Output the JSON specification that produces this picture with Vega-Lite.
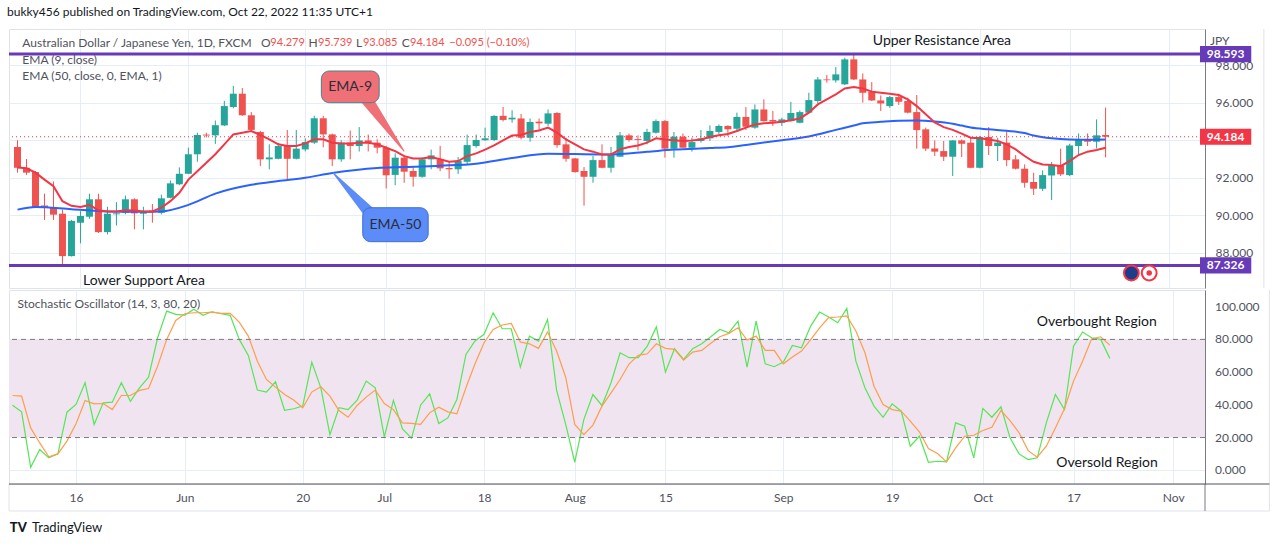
{
"$schema":"https://vega.github.io/schema/vega-lite/v6.json",
"autosize":{"type":"pad"},
"padding":{"left":7,"top":6,"right":0,"bottom":0},
"bounds":"flush",
"spacing":2,
"background":"#ffffff",
"title":{"text":"bukky456 published on TradingView.com, Oct 22, 2022 11:35 UTC+1","anchor":"start","fontSize":12,"fontWeight":"normal","color":"#131722","font":"Lato","offset":9},
"datasets":{
"bars":[
{"i":0,"o":93.64,"h":94.0,"l":92.27,"c":92.53,"e9":92.55,"k":39.8,"d":45.7},
{"i":1,"o":92.53,"h":93.0,"l":92.15,"c":92.27,"e9":92.5,"k":35.7,"d":45.3},
{"i":2,"o":92.3,"h":92.35,"l":90.4,"c":90.44,"e9":92.27,"k":1.8,"d":25.9},
{"i":3,"o":90.52,"h":91.15,"l":89.75,"c":90.42,"e9":91.9,"k":12.7,"d":16.7},
{"i":4,"o":90.44,"h":91.8,"l":89.75,"c":90.03,"e9":91.55,"k":7.6,"d":8.2},
{"i":5,"o":90.08,"h":90.3,"l":87.35,"c":87.82,"e9":90.75,"k":10.0,"d":10.0},
{"i":6,"o":87.82,"h":89.75,"l":87.8,"c":89.7,"e9":90.5,"k":35.5,"d":17.8},
{"i":7,"o":89.6,"h":90.22,"l":88.5,"c":89.96,"e9":90.44,"k":40.2,"d":28.4},
{"i":8,"o":89.92,"h":91.15,"l":89.8,"c":90.85,"e9":90.55,"k":53.5,"d":42.7},
{"i":9,"o":90.85,"h":91.15,"l":89.05,"c":89.1,"e9":90.26,"k":28.0,"d":40.6},
{"i":10,"o":89.1,"h":90.45,"l":88.98,"c":90.08,"e9":90.2,"k":41.2,"d":40.8},
{"i":11,"o":90.05,"h":90.7,"l":89.45,"c":90.1,"e9":90.2,"k":41.6,"d":37.1},
{"i":12,"o":90.13,"h":91.05,"l":90.05,"c":90.85,"e9":90.27,"k":53.5,"d":45.7},
{"i":13,"o":90.85,"h":90.9,"l":89.25,"c":90.1,"e9":90.25,"k":42.2,"d":45.7},
{"i":14,"o":90.08,"h":90.45,"l":89.25,"c":90.22,"e9":90.2,"k":50.4,"d":48.8},
{"i":15,"o":90.25,"h":90.6,"l":89.6,"c":90.15,"e9":90.2,"k":56.9,"d":50.0},
{"i":16,"o":90.13,"h":91.1,"l":90.05,"c":90.9,"e9":90.4,"k":81.0,"d":63.7},
{"i":17,"o":90.93,"h":91.85,"l":90.9,"c":91.7,"e9":90.75,"k":97.3,"d":80.0},
{"i":18,"o":91.65,"h":92.55,"l":91.6,"c":92.21,"e9":91.2,"k":95.3,"d":91.6},
{"i":19,"o":92.21,"h":93.6,"l":92.2,"c":93.25,"e9":91.9,"k":94.9,"d":95.7},
{"i":20,"o":93.25,"h":94.4,"l":92.85,"c":94.28,"e9":92.35,"k":98.4,"d":96.3},
{"i":21,"o":94.3,"h":94.4,"l":94.15,"c":94.25,"e9":92.8,"k":94.7,"d":96.3},
{"i":22,"o":94.26,"h":95.05,"l":93.8,"c":94.8,"e9":93.25,"k":96.9,"d":96.7},
{"i":23,"o":94.79,"h":96.1,"l":94.75,"c":95.82,"e9":93.78,"k":95.7,"d":95.9},
{"i":24,"o":95.77,"h":96.9,"l":95.7,"c":96.48,"e9":94.31,"k":94.7,"d":95.9},
{"i":25,"o":96.48,"h":96.78,"l":95.3,"c":95.33,"e9":94.4,"k":80.0,"d":90.6},
{"i":26,"o":95.33,"h":95.5,"l":94.5,"c":94.55,"e9":94.49,"k":70.2,"d":82.0},
{"i":27,"o":94.44,"h":94.5,"l":92.62,"c":92.98,"e9":94.28,"k":49.0,"d":66.7},
{"i":28,"o":92.98,"h":93.78,"l":92.45,"c":93.08,"e9":94.05,"k":47.8,"d":55.5},
{"i":29,"o":93.01,"h":93.85,"l":92.98,"c":93.69,"e9":93.78,"k":54.1,"d":50.8},
{"i":30,"o":93.72,"h":94.55,"l":91.92,"c":93.01,"e9":93.69,"k":36.7,"d":46.3},
{"i":31,"o":93.01,"h":94.55,"l":92.98,"c":93.55,"e9":93.69,"k":37.6,"d":42.9},
{"i":32,"o":93.51,"h":94.1,"l":93.4,"c":93.9,"e9":93.83,"k":39.2,"d":38.2},
{"i":33,"o":93.87,"h":95.3,"l":93.8,"c":95.17,"e9":94.05,"k":66.1,"d":47.8},
{"i":34,"o":95.17,"h":95.3,"l":93.62,"c":94.31,"e9":94.05,"k":50.4,"d":51.0},
{"i":35,"o":94.31,"h":94.35,"l":92.62,"c":92.98,"e9":93.87,"k":21.8,"d":45.3},
{"i":36,"o":92.98,"h":94.0,"l":92.85,"c":93.87,"e9":93.83,"k":38.2,"d":36.5},
{"i":37,"o":93.87,"h":94.52,"l":92.98,"c":93.69,"e9":93.83,"k":37.1,"d":32.4},
{"i":38,"o":93.69,"h":94.7,"l":93.4,"c":93.99,"e9":93.87,"k":42.9,"d":39.6},
{"i":39,"o":93.99,"h":94.3,"l":93.4,"c":93.87,"e9":93.87,"k":54.5,"d":44.7},
{"i":40,"o":93.87,"h":94.05,"l":93.3,"c":93.6,"e9":93.78,"k":50.4,"d":49.0},
{"i":41,"o":93.6,"h":93.7,"l":91.43,"c":92.13,"e9":93.6,"k":20.4,"d":40.8},
{"i":42,"o":92.15,"h":93.3,"l":91.6,"c":93.07,"e9":93.42,"k":42.7,"d":37.1},
{"i":43,"o":93.07,"h":93.2,"l":91.73,"c":92.32,"e9":93.15,"k":25.3,"d":29.0},
{"i":44,"o":92.36,"h":92.55,"l":91.52,"c":92.05,"e9":93.03,"k":19.6,"d":28.7},
{"i":45,"o":92.05,"h":93.08,"l":92.0,"c":92.98,"e9":93.03,"k":39.8,"d":28.0},
{"i":46,"o":92.98,"h":93.5,"l":92.45,"c":93.19,"e9":93.1,"k":46.7,"d":35.1},
{"i":47,"o":92.98,"h":93.7,"l":92.35,"c":92.5,"e9":92.98,"k":28.6,"d":38.6},
{"i":48,"o":92.52,"h":92.85,"l":91.95,"c":92.45,"e9":92.85,"k":32.0,"d":35.7},
{"i":49,"o":92.45,"h":93.1,"l":92.2,"c":92.89,"e9":92.89,"k":43.3,"d":34.5},
{"i":50,"o":92.85,"h":94.3,"l":92.7,"c":93.74,"e9":93.15,"k":70.8,"d":50.4},
{"i":51,"o":93.69,"h":94.3,"l":93.6,"c":94.01,"e9":93.3,"k":79.0,"d":65.1},
{"i":52,"o":94.0,"h":94.67,"l":93.97,"c":94.1,"e9":93.5,"k":83.1,"d":78.0},
{"i":53,"o":94.01,"h":95.35,"l":93.95,"c":95.29,"e9":93.72,"k":96.3,"d":86.1},
{"i":54,"o":95.3,"h":95.77,"l":95.0,"c":95.08,"e9":93.99,"k":86.5,"d":88.8},
{"i":55,"o":95.11,"h":95.6,"l":94.93,"c":95.2,"e9":94.25,"k":86.5,"d":89.8},
{"i":56,"o":95.16,"h":95.4,"l":94.04,"c":94.13,"e9":94.28,"k":63.1,"d":78.4},
{"i":57,"o":94.13,"h":95.16,"l":93.92,"c":94.97,"e9":94.44,"k":82.0,"d":77.3},
{"i":58,"o":94.99,"h":95.16,"l":94.54,"c":94.9,"e9":94.52,"k":79.0,"d":74.5},
{"i":59,"o":94.88,"h":95.64,"l":94.76,"c":95.43,"e9":94.67,"k":92.2,"d":84.5},
{"i":60,"o":95.45,"h":95.5,"l":93.6,"c":93.74,"e9":94.4,"k":48.8,"d":72.9},
{"i":61,"o":93.78,"h":94.13,"l":92.85,"c":93.01,"e9":94.04,"k":28.0,"d":56.9},
{"i":62,"o":93.03,"h":93.05,"l":92.27,"c":92.3,"e9":93.78,"k":4.9,"d":28.0},
{"i":63,"o":92.36,"h":92.57,"l":90.51,"c":92.05,"e9":93.51,"k":31.0,"d":21.8},
{"i":64,"o":92.05,"h":93.16,"l":91.73,"c":92.94,"e9":93.39,"k":46.3,"d":27.6},
{"i":65,"o":92.94,"h":93.78,"l":92.5,"c":92.53,"e9":93.24,"k":39.6,"d":39.2},
{"i":66,"o":92.53,"h":93.64,"l":92.27,"c":93.21,"e9":93.24,"k":53.5,"d":47.3},
{"i":67,"o":93.12,"h":94.44,"l":93.1,"c":94.26,"e9":93.51,"k":71.8,"d":55.5},
{"i":68,"o":94.26,"h":94.36,"l":93.92,"c":94.01,"e9":93.64,"k":68.8,"d":65.1},
{"i":69,"o":94.06,"h":94.26,"l":93.46,"c":94.01,"e9":93.72,"k":68.8,"d":70.2},
{"i":70,"o":93.96,"h":94.61,"l":93.78,"c":94.44,"e9":93.87,"k":75.9,"d":71.2},
{"i":71,"o":94.4,"h":95.11,"l":94.35,"c":95.02,"e9":94.1,"k":87.6,"d":77.3},
{"i":72,"o":95.02,"h":95.08,"l":93.07,"c":93.55,"e9":94.04,"k":60.0,"d":74.5},
{"i":73,"o":93.55,"h":94.44,"l":93.07,"c":94.19,"e9":94.0,"k":74.3,"d":73.9},
{"i":74,"o":94.19,"h":94.36,"l":93.6,"c":93.6,"e9":93.96,"k":67.8,"d":67.3},
{"i":75,"o":93.6,"h":94.13,"l":93.39,"c":93.9,"e9":93.99,"k":74.3,"d":72.2},
{"i":76,"o":93.96,"h":94.54,"l":93.87,"c":94.1,"e9":94.04,"k":77.3,"d":73.3},
{"i":77,"o":94.1,"h":94.79,"l":93.96,"c":94.49,"e9":94.17,"k":81.6,"d":77.6},
{"i":78,"o":94.44,"h":94.84,"l":94.31,"c":94.76,"e9":94.26,"k":86.1,"d":81.6},
{"i":79,"o":94.76,"h":94.8,"l":94.22,"c":94.58,"e9":94.33,"k":84.1,"d":83.7},
{"i":80,"o":94.61,"h":95.47,"l":94.49,"c":95.24,"e9":94.49,"k":91.2,"d":87.1},
{"i":81,"o":95.24,"h":95.77,"l":94.54,"c":94.72,"e9":94.67,"k":63.1,"d":79.6},
{"i":82,"o":94.67,"h":95.91,"l":94.61,"c":95.64,"e9":94.84,"k":91.2,"d":82.0},
{"i":83,"o":95.64,"h":96.18,"l":94.99,"c":95.02,"e9":94.9,"k":65.1,"d":73.3},
{"i":84,"o":95.08,"h":95.56,"l":94.76,"c":94.99,"e9":94.93,"k":63.3,"d":73.3},
{"i":85,"o":94.93,"h":95.2,"l":94.76,"c":95.11,"e9":94.99,"k":66.1,"d":65.1},
{"i":86,"o":95.02,"h":96.04,"l":94.99,"c":95.45,"e9":95.06,"k":76.3,"d":69.2},
{"i":87,"o":94.93,"h":95.59,"l":94.9,"c":95.5,"e9":95.16,"k":74.9,"d":72.9},
{"i":88,"o":95.47,"h":96.53,"l":95.43,"c":96.14,"e9":95.47,"k":88.0,"d":79.7},
{"i":89,"o":96.09,"h":97.37,"l":95.96,"c":97.24,"e9":95.91,"k":96.7,"d":87.1},
{"i":90,"o":97.24,"h":97.48,"l":97.07,"c":97.2,"e9":96.18,"k":93.7,"d":93.3},
{"i":91,"o":97.19,"h":97.9,"l":97.07,"c":97.51,"e9":96.44,"k":90.2,"d":93.7},
{"i":92,"o":96.98,"h":98.4,"l":96.94,"c":98.31,"e9":96.76,"k":99.0,"d":94.3},
{"i":93,"o":98.31,"h":98.58,"l":97.21,"c":97.24,"e9":96.84,"k":66.7,"d":85.1},
{"i":94,"o":97.24,"h":97.56,"l":96.0,"c":96.53,"e9":96.76,"k":50.4,"d":71.8},
{"i":95,"o":96.59,"h":97.1,"l":96.09,"c":96.12,"e9":96.59,"k":39.2,"d":51.4},
{"i":96,"o":96.12,"h":96.39,"l":95.56,"c":95.96,"e9":96.53,"k":32.4,"d":40.2},
{"i":97,"o":95.82,"h":96.36,"l":95.73,"c":96.3,"e9":96.48,"k":40.6,"d":37.1},
{"i":98,"o":96.3,"h":96.48,"l":95.88,"c":96.05,"e9":96.41,"k":36.1,"d":36.1},
{"i":99,"o":96.09,"h":96.27,"l":95.43,"c":95.47,"e9":96.18,"k":14.7,"d":30.0},
{"i":100,"o":95.5,"h":96.41,"l":93.55,"c":94.54,"e9":95.82,"k":20.8,"d":23.5},
{"i":101,"o":94.58,"h":94.67,"l":93.42,"c":93.55,"e9":95.38,"k":4.9,"d":13.3},
{"i":102,"o":93.56,"h":93.99,"l":93.16,"c":93.39,"e9":94.95,"k":5.5,"d":10.2},
{"i":103,"o":93.42,"h":93.96,"l":92.89,"c":93.12,"e9":94.7,"k":5.1,"d":5.1},
{"i":104,"o":93.12,"h":94.0,"l":92.09,"c":93.99,"e9":94.55,"k":29.0,"d":13.7},
{"i":105,"o":93.99,"h":94.04,"l":93.1,"c":93.81,"e9":94.35,"k":26.9,"d":20.8},
{"i":106,"o":93.87,"h":94.13,"l":92.5,"c":92.53,"e9":94.13,"k":7.6,"d":21.4},
{"i":107,"o":92.53,"h":94.22,"l":92.5,"c":94.17,"e9":94.1,"k":37.8,"d":24.3},
{"i":108,"o":94.17,"h":94.7,"l":93.21,"c":93.69,"e9":94.04,"k":32.4,"d":26.3},
{"i":109,"o":93.69,"h":94.13,"l":92.89,"c":93.87,"e9":93.96,"k":38.8,"d":36.5},
{"i":110,"o":93.87,"h":94.49,"l":92.62,"c":92.94,"e9":93.78,"k":19.8,"d":30.4},
{"i":111,"o":92.98,"h":93.21,"l":92.44,"c":92.48,"e9":93.51,"k":10.0,"d":22.9},
{"i":112,"o":92.48,"h":92.71,"l":91.47,"c":91.73,"e9":93.16,"k":6.5,"d":12.0},
{"i":113,"o":91.77,"h":92.27,"l":91.08,"c":91.41,"e9":92.85,"k":7.6,"d":8.0},
{"i":114,"o":91.41,"h":92.39,"l":91.29,"c":92.14,"e9":92.71,"k":29.0,"d":14.7},
{"i":115,"o":92.12,"h":92.84,"l":90.81,"c":92.66,"e9":92.68,"k":46.3,"d":25.9},
{"i":116,"o":92.66,"h":93.55,"l":92.09,"c":92.18,"e9":92.62,"k":37.1,"d":37.6},
{"i":117,"o":92.14,"h":93.81,"l":92.09,"c":93.72,"e9":92.89,"k":75.9,"d":54.5},
{"i":118,"o":93.69,"h":94.36,"l":93.16,"c":94.04,"e9":93.21,"k":84.5,"d":66.7},
{"i":119,"o":94.04,"h":94.36,"l":93.69,"c":93.92,"e9":93.39,"k":81.0,"d":80.4},
{"i":120,"o":93.92,"h":95.11,"l":93.56,"c":94.26,"e9":93.48,"k":80.0,"d":81.6},
{"i":121,"o":94.279,"h":95.739,"l":93.085,"c":94.184,"e9":93.6,"k":68.4,"d":76.5}
],
"ema50":[
{"i":0,"v":90.3},{"i":2,"v":90.44},{"i":6,"v":90.32},{"i":10,"v":90.2},{"i":13,"v":90.18},{"i":16,"v":90.2},{"i":19,"v":90.55},{"i":22,"v":91.15},{"i":26,"v":91.62},{"i":29,"v":91.82},{"i":32,"v":92.0},{"i":35,"v":92.25},{"i":40,"v":92.52},{"i":43,"v":92.57},{"i":47,"v":92.64},{"i":51,"v":92.75},{"i":55,"v":93.05},{"i":59,"v":93.28},{"i":62,"v":93.26},{"i":66,"v":93.24},{"i":70,"v":93.38},{"i":73,"v":93.5},{"i":77,"v":93.58},{"i":79,"v":93.63},{"i":81,"v":93.75},{"i":85,"v":94.0},{"i":88,"v":94.2},{"i":91,"v":94.55},{"i":93,"v":94.78},{"i":94,"v":94.9},{"i":96,"v":94.98},{"i":98,"v":95.04},{"i":100,"v":95.05},{"i":102,"v":95.0},{"i":104,"v":94.88},{"i":105,"v":94.78},{"i":106,"v":94.68},{"i":108,"v":94.58},{"i":110,"v":94.5},{"i":112,"v":94.38},{"i":113,"v":94.25},{"i":115,"v":94.1},{"i":117,"v":94.04},{"i":119,"v":94.03},{"i":121,"v":94.04}
],
"levels":[{"p":98.593},{"p":87.326}],
"stochTicks":[{"v":0},{"v":20},{"v":40},{"v":60},{"v":80},{"v":100}]
},
"vconcat":[
{"width":1196,"height":259,
"layer":[
{"data":{"name":"bars"},"mark":{"type":"rule","strokeWidth":1},
"encoding":{
"x":{"field":"i","type":"quantitative","title":null,"scale":{"domain":[-0.39,131.5],"nice":false,"zero":false},"axis":{"values":[7,19,32,41,52,62,72,85,97,107,117,128],"labels":false,"ticks":false,"domain":false,"grid":true,"title":null}},
"y":{"field":"l","type":"quantitative","title":null,"scale":{"domain":[86.12,99.93],"nice":false,"zero":false},"axis":{"orient":"right","values":[88,90,92,94,96,98],"labelExpr":"datum.value==94?'':format(datum.value,'.3f')","labelOverlap":false,"grid":true,"ticks":false,"domain":true,"domainColor":"#787b86","labelPadding":10,"title":null}},
"y2":{"field":"h"},
"color":{"condition":{"test":"datum.c >= datum.o","value":"#26a69a"},"value":"#ef5350"}}},
{"data":{"name":"bars"},"mark":{"type":"bar","width":7},
"encoding":{
"x":{"field":"i","type":"quantitative","title":null},
"y":{"field":"o","type":"quantitative","title":null},
"y2":{"field":"c"},
"color":{"condition":{"test":"datum.c >= datum.o","value":"#26a69a"},"value":"#ef5350"}}},
{"data":{"name":"ema50"},"mark":{"type":"line","color":"#2962ff","strokeWidth":2,"interpolate":"monotone"},
"encoding":{"x":{"field":"i","type":"quantitative","title":null},"y":{"field":"v","type":"quantitative","title":null}}},
{"data":{"name":"bars"},"mark":{"type":"line","color":"#f23645","strokeWidth":2},
"encoding":{"x":{"field":"i","type":"quantitative","title":null},"y":{"field":"e9","type":"quantitative","title":null}}},
{"data":{"values":[{}]},"mark":{"type":"rule","color":"#f23645","strokeWidth":1,"strokeDash":[1,3]},
"encoding":{"y":{"datum":94.184}}},
{"data":{"values":[{}]},"mark":{"type":"rule","color":"#e0e3eb","strokeWidth":1},
"encoding":{"x":{"datum":138.6}}},
{"data":{"values":[{}]},"mark":{"type":"text","text":"Australian Dollar / Japanese Yen, 1D, FXCM"},"encoding":{"x":{"datum":0.54},"y":{"datum":99.18}}},
{"data":{"values":[{}]},"mark":{"type":"text","text":"O"},"encoding":{"x":{"datum":27.07},"y":{"datum":99.18}}},
{"data":{"values":[{}]},"mark":{"type":"text","text":"94.279","color":"#ef5350","fontSize":11},"encoding":{"x":{"datum":28.12},"y":{"datum":99.18}}},
{"data":{"values":[{}]},"mark":{"type":"text","text":"H"},"encoding":{"x":{"datum":32.36},"y":{"datum":99.18}}},
{"data":{"values":[{}]},"mark":{"type":"text","text":"95.739","color":"#ef5350","fontSize":11},"encoding":{"x":{"datum":33.41},"y":{"datum":99.18}}},
{"data":{"values":[{}]},"mark":{"type":"text","text":"L"},"encoding":{"x":{"datum":37.65},"y":{"datum":99.18}}},
{"data":{"values":[{}]},"mark":{"type":"text","text":"93.085","color":"#ef5350","fontSize":11},"encoding":{"x":{"datum":38.42},"y":{"datum":99.18}}},
{"data":{"values":[{}]},"mark":{"type":"text","text":"C"},"encoding":{"x":{"datum":42.72},"y":{"datum":99.18}}},
{"data":{"values":[{}]},"mark":{"type":"text","text":"94.184","color":"#ef5350","fontSize":11},"encoding":{"x":{"datum":43.66},"y":{"datum":99.18}}},
{"data":{"values":[{}]},"mark":{"type":"text","text":"−0.095 (−0.10%)","color":"#ef5350","fontSize":11},"encoding":{"x":{"datum":48.02},"y":{"datum":99.18}}},
{"data":{"values":[{}]},"mark":{"type":"text","text":"EMA (9, close)"},"encoding":{"x":{"datum":0.54},"y":{"datum":98.28}}},
{"data":{"values":[{}]},"mark":{"type":"text","text":"EMA (50, close, 0, EMA, 1)"},"encoding":{"x":{"datum":0.54},"y":{"datum":97.42}}},
{"data":{"name":"levels"},"mark":{"type":"rule","color":"#673ab7","strokeWidth":3},
"encoding":{"y":{"field":"p","type":"quantitative","title":null}}},
{"data":{"values":[{}]},"mark":{"type":"text","text":"Upper Resistance Area","align":"center","fontSize":14,"color":"#131722"},"encoding":{"x":{"datum":102.8},"y":{"datum":99.29}}},
{"data":{"values":[{}]},"mark":{"type":"text","text":"Lower Support Area","align":"center","fontSize":14,"color":"#131722"},"encoding":{"x":{"datum":14.06},"y":{"datum":86.49}}},
{"data":{"values":[{"px":38.5,"py":96.4,"w":0},{"px":42.98,"py":93.42,"w":1}]},"mark":{"type":"trail","color":"#f07078"},
"encoding":{"x":{"field":"px","type":"quantitative","title":null},"y":{"field":"py","type":"quantitative","title":null},"size":{"field":"w","type":"quantitative","scale":{"domain":[0,1],"range":[13,1]},"legend":null}}},
{"data":{"values":[{}]},"mark":{"type":"rect","color":"#f07078","stroke":"#4f8088","strokeWidth":1,"cornerRadius":8},
"encoding":{"x":{"datum":33.79},"x2":{"datum":40.22},"y":{"datum":96.0},"y2":{"datum":97.69}}},
{"data":{"values":[{}]},"mark":{"type":"text","text":"EMA-9","align":"center","fontSize":14,"color":"#2a2e39"},"encoding":{"x":{"datum":37.0},"y":{"datum":96.84}}},
{"data":{"values":[{"px":39.6,"py":89.9,"w":0},{"px":35.08,"py":92.27,"w":1}]},"mark":{"type":"trail","color":"#5b8cf8"},
"encoding":{"x":{"field":"px","type":"quantitative","title":null},"y":{"field":"py","type":"quantitative","title":null},"size":{"field":"w","type":"quantitative","scale":{"domain":[0,1],"range":[13,1]},"legend":null}}},
{"data":{"values":[{}]},"mark":{"type":"rect","color":"#5b8cf8","stroke":"#3d6fcf","strokeWidth":1,"cornerRadius":8},
"encoding":{"x":{"datum":38.39},"x2":{"datum":45.67},"y":{"datum":88.59},"y2":{"datum":90.4}}},
{"data":{"values":[{}]},"mark":{"type":"text","text":"EMA-50","align":"center","fontSize":14,"color":"#2a2e39"},"encoding":{"x":{"datum":42.03},"y":{"datum":89.49}}},
{"data":{"values":[{}]},"mark":{"type":"text","text":"JPY"},"encoding":{"x":{"datum":132.6},"y":{"datum":99.29}}},
{"data":{"values":[{}]},"mark":{"type":"rect","color":"#673ab7"},"encoding":{"x":{"datum":131.5},"x2":{"datum":137.2},"y":{"datum":98.163},"y2":{"datum":99.023}}},
{"data":{"values":[{}]},"mark":{"type":"rect","color":"#f23645"},"encoding":{"x":{"datum":131.5},"x2":{"datum":137.2},"y":{"datum":93.754},"y2":{"datum":94.614}}},
{"data":{"values":[{}]},"mark":{"type":"rect","color":"#673ab7"},"encoding":{"x":{"datum":131.5},"x2":{"datum":137.2},"y":{"datum":86.896},"y2":{"datum":87.756}}},
{"data":{"values":[{}]},"mark":{"type":"text","text":"98.593","align":"center","color":"#ffffff","fontWeight":"bold"},"encoding":{"x":{"datum":134.35},"y":{"datum":98.593}}},
{"data":{"values":[{}]},"mark":{"type":"text","text":"94.184","align":"center","color":"#ffffff","fontWeight":"bold"},"encoding":{"x":{"datum":134.35},"y":{"datum":94.184}}},
{"data":{"values":[{}]},"mark":{"type":"text","text":"87.326","align":"center","color":"#ffffff","fontWeight":"bold"},"encoding":{"x":{"datum":134.35},"y":{"datum":87.326}}},
{"data":{"values":[{}]},"mark":{"type":"point","shape":"circle","filled":true,"size":220,"fill":"#1c3c8c","stroke":"#f23645","strokeWidth":2,"opacity":1},"encoding":{"x":{"datum":123.87},"y":{"datum":86.92}}},
{"data":{"values":[{}]},"mark":{"type":"point","shape":"circle","filled":true,"size":220,"fill":"#ffffff","stroke":"#f23645","strokeWidth":2,"opacity":1},"encoding":{"x":{"datum":125.85},"y":{"datum":86.92}}},
{"data":{"values":[{}]},"mark":{"type":"point","shape":"circle","filled":true,"size":30,"color":"#f23645","opacity":1},"encoding":{"x":{"datum":125.85},"y":{"datum":86.92}}}
]},
{"width":1196,"height":194,
"layer":[
{"data":{"values":[{}]},"mark":{"type":"rect","color":"#f0e4f0"},
"encoding":{
"x":{"datum":-0.39,"type":"quantitative","title":null,"scale":{"domain":[-0.39,131.5],"nice":false,"zero":false},"axis":{"orient":"bottom","values":[7,19,32,41,52,62,72,85,97,107,117,128],"labelExpr":"datum.value==7?'16':datum.value==19?'Jun':datum.value==32?'20':datum.value==41?'Jul':datum.value==52?'18':datum.value==62?'Aug':datum.value==72?'15':datum.value==85?'Sep':datum.value==97?'19':datum.value==107?'Oct':datum.value==117?'17':'Nov'","grid":true,"domain":false,"ticks":false,"labelPadding":8,"labelFlush":false,"labelOverlap":false,"title":null}},
"x2":{"datum":131.5},
"y":{"datum":20,"type":"quantitative","title":null,"scale":{"domain":[-8.4,110.2],"nice":false,"zero":false},"axis":{"orient":"right","values":[0,20,40,60,80,100],"labels":false,"grid":true,"ticks":false,"domain":true,"domainColor":"#787b86","title":null}},
"y2":{"datum":80}}},
{"data":{"name":"bars"},"mark":{"type":"line","color":"#55e655","strokeWidth":1.2},
"encoding":{"x":{"field":"i","type":"quantitative","title":null},"y":{"field":"k","type":"quantitative","title":null}}},
{"data":{"name":"bars"},"mark":{"type":"line","color":"#ff9d4d","strokeWidth":1.2},
"encoding":{"x":{"field":"i","type":"quantitative","title":null},"y":{"field":"d","type":"quantitative","title":null}}},
{"data":{"values":[{}]},"mark":{"type":"rule","color":"#787b86","strokeWidth":1,"strokeDash":[5,4]},"encoding":{"y":{"datum":80}}},
{"data":{"values":[{}]},"mark":{"type":"rule","color":"#787b86","strokeWidth":1,"strokeDash":[5,4]},"encoding":{"y":{"datum":20}}},
{"data":{"name":"stochTicks"},"mark":{"type":"text","align":"left","color":"#50535e"},
"encoding":{"x":{"datum":132.6},"y":{"field":"v","type":"quantitative","title":null},"text":{"field":"v","type":"quantitative","format":".3f"}}},
{"data":{"values":[{}]},"mark":{"type":"rule","color":"#e0e3eb","strokeWidth":1},"encoding":{"x":{"datum":138.6},"y":{"datum":-24.9},"y2":{"datum":110.2}}},
{"data":{"values":[{}]},"mark":{"type":"rule","color":"#e0e3eb","strokeWidth":1},"encoding":{"x":{"datum":-0.39},"x2":{"datum":138.6},"y":{"datum":-24.9}}},
{"data":{"values":[{}]},"mark":{"type":"rule","color":"#e0e3eb","strokeWidth":1},"encoding":{"x":{"datum":-0.39},"y":{"datum":-24.9},"y2":{"datum":-8.4}}},
{"data":{"values":[{}]},"mark":{"type":"rule","color":"#787b86","strokeWidth":1},"encoding":{"x":{"datum":131.5},"y":{"datum":-24.9},"y2":{"datum":-8.4}}},
{"data":{"values":[{}]},"mark":{"type":"rule","color":"#50535e","strokeWidth":1},"encoding":{"x":{"datum":-0.39},"x2":{"datum":138.6},"y":{"datum":-8.4}}},
{"data":{"values":[{}]},"mark":{"type":"text","text":"Stochastic Oscillator (14, 3, 80, 20)"},"encoding":{"x":{"datum":0.54},"y":{"datum":101.6}}},
{"data":{"values":[{}]},"mark":{"type":"text","text":"Overbought Region","align":"center","fontSize":14,"color":"#131722"},"encoding":{"x":{"datum":119.57},"y":{"datum":90.6}}},
{"data":{"values":[{}]},"mark":{"type":"text","text":"Oversold Region","align":"center","fontSize":14,"color":"#131722"},"encoding":{"x":{"datum":120.7},"y":{"datum":4.3}}},
{"data":{"values":[{}]},"mark":{"type":"text","text":"TV","fontWeight":900,"fontSize":13,"color":"#131722"},"encoding":{"x":{"datum":-0.3},"y":{"datum":-35.3}}},
{"data":{"values":[{}]},"mark":{"type":"text","text":"TradingView","fontSize":13,"color":"#131722"},"encoding":{"x":{"datum":2.15},"y":{"datum":-35.3}}}
]}
],
"config":{
"font":"Lato",
"view":{"stroke":"#e0e3eb","strokeWidth":1},
"axis":{"gridColor":"#e6edf4","gridWidth":1,"labelColor":"#50535e","labelFontSize":12,"labelFont":"Lato","ticks":false,"domain":false,"labelOverlap":false},
"text":{"font":"Lato","fontSize":12,"color":"#50535e","align":"left","baseline":"middle"}
}
}
